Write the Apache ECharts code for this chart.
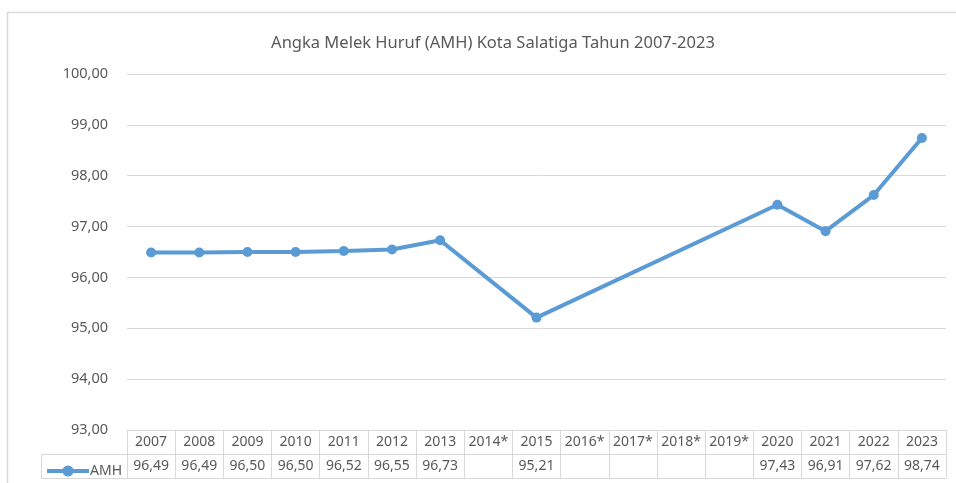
<!DOCTYPE html>
<html>
<head>
<meta charset="utf-8">
<script src="https://cdn.jsdelivr.net/npm/echarts@6/dist/echarts.min.js"></script>
<style>
  html, body { margin: 0; padding: 0; background: #fff; }
  #chart { width: 956px; height: 483px; }
</style>
</head>
<body>
<div id="chart"></div>
<script>
// data AMH Kota Salatiga
const years = ["2007", "2008", "2009", "2010", "2011", "2012", "2013", "2014*", "2015",
  "2016*", "2017*", "2018*", "2019*", "2020", "2021", "2022", "2023"];
const amh = [96.49, 96.49, 96.50, 96.50, 96.52, 96.55, 96.73, null, 95.21,
  null, null, null, null, 97.43, 96.91, 97.62, 98.74];
const yTicks = { min: 93, max: 100, step: 1 };

const fmt = (v) => (v == null ? "" : v.toFixed(2).replace(".", ","));
const gray = "#595959";
const border = "#d9d9d9";
const font = "Noto Sans";

const chart = echarts.init(document.getElementById("chart"));

chart.setOption({
  animation: false,
  textStyle: { fontFamily: font },
  title: {
    text: "Angka Melek Huruf (AMH) Kota Salatiga Tahun 2007-2023",
    left: 488,
    top: 30,
    textAlign: "center",
    textStyle: { color: gray, fontSize: 16.5, fontWeight: "normal", fontFamily: font },
  },
  grid: { left: 127, right: 10, top: 74, bottom: 53 },
  legend: {
    left: 40,
    top: 459,
    itemWidth: 42,
    itemHeight: 14,
    lineStyle: { width: 4 },
    textStyle: { color: gray, fontSize: 14, fontFamily: font, padding: [0, 0, 0, -4] },
    data: ["AMH"],
  },
  graphic: [
    {
      type: "rect",
      shape: { x: 7.5, y: 12.5, width: 1200, height: 1200 },
      style: { fill: "none", stroke: border, lineWidth: 1.5 },
      silent: true,
      z: -10,
    },
    {
      type: "rect",
      shape: { x: 41.5, y: 454.5, width: 86, height: 24 },
      style: { fill: "none", stroke: border, lineWidth: 1 },
      silent: true,
    },
  ],
  xAxis: [
    {
      type: "category",
      data: years,
      position: "bottom",
      boundaryGap: true,
      axisLine: { lineStyle: { color: border } },
      axisTick: { show: true, length: 48, lineStyle: { color: border } },
      axisLabel: { interval: 0, margin: 5, color: gray, fontSize: 14, fontFamily: font },
    },
    {
      type: "category",
      data: amh.map(fmt),
      position: "bottom",
      offset: 24,
      axisLine: { lineStyle: { color: border } },
      axisTick: { show: false },
      axisLabel: { interval: 0, margin: 5, color: gray, fontSize: 14, fontFamily: font },
    },
    {
      type: "category",
      data: years,
      position: "bottom",
      offset: 48,
      axisLine: { lineStyle: { color: border } },
      axisTick: { show: false },
      axisLabel: { show: false },
    },
  ],
  yAxis: {
    type: "value",
    min: yTicks.min,
    max: yTicks.max,
    interval: yTicks.step,
    axisLine: { show: false },
    axisTick: { show: false },
    splitLine: { lineStyle: { color: border } },
    axisLabel: {
      margin: 19,
      color: gray,
      fontSize: 14.5,
      fontFamily: font,
      formatter: (v) => fmt(v),
    },
  },
  series: [
    {
      name: "AMH",
      type: "line",
      xAxisIndex: 0,
      data: amh,
      connectNulls: true,
      symbol: "circle",
      symbolSize: 10,
      itemStyle: { color: "#5b9bd5" },
      lineStyle: { color: "#5b9bd5", width: 4 },
    },
  ],
});
</script>
</body>
</html>
